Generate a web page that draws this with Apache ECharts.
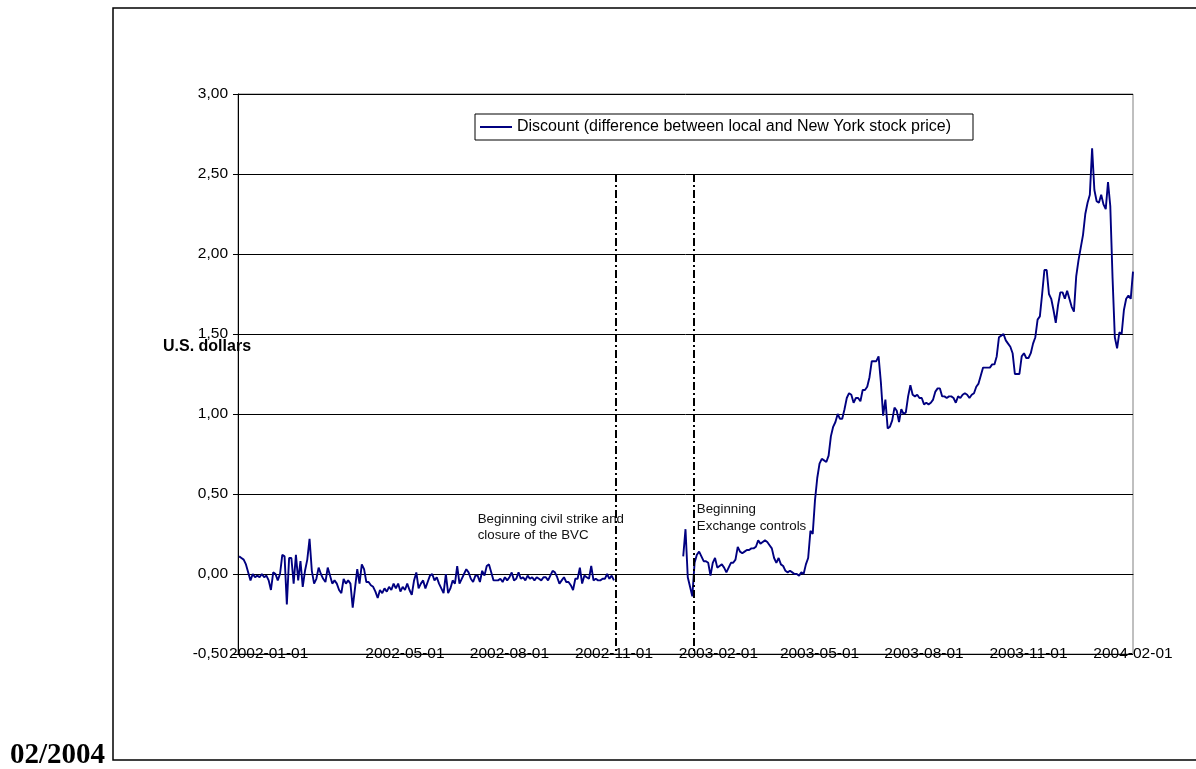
<!DOCTYPE html>
<html>
<head>
<meta charset="utf-8">
<script src="https://cdn.jsdelivr.net/npm/echarts@6/dist/echarts.min.js"></script>
<style>
  html, body { margin: 0; padding: 0; background: #fff; }
  #chart { width: 1196px; height: 769px; }
</style>
</head>
<body>
<div id="chart"></div>
<script>
// ---- data ----------------------------------------------------------------
const seriesName = 'Discount (difference between local and New York stock price)';

// date axis range and labelled dates
const axisStart = '2001-12-05';
const axisEnd = '2004-02-01';
const tickDates = ['2002-01-01', '2002-05-01', '2002-08-01', '2002-11-01', '2003-02-01',
                   '2003-05-01', '2003-08-01', '2003-11-01', '2004-02-01'];

// value axis (U.S. dollars)
const yMin = -0.5;
const yMax = 3.0;
const yStep = 0.5;

// discount observations, one every two calendar days
const stepDays = 2;

// before the strike and closure of the BVC
const beforeStrikeStart = '2001-12-06';
const beforeStrike = [
  0.11, 0.10, 0.09, 0.06, 0.01, -0.04, 0.00, -0.02, -0.01, -0.02,
  0.00, -0.02, -0.01, -0.04, -0.10, 0.01, 0.00, -0.04, 0.00, 0.12,
  0.11, -0.19, 0.10, 0.10, -0.06, 0.12, -0.04, 0.08, -0.08, 0.02,
  0.09, 0.22, 0.02, -0.06, -0.03, 0.04, 0.00, -0.03, -0.05, 0.04,
  -0.01, -0.06, -0.04, -0.06, -0.10, -0.12, -0.03, -0.06, -0.04, -0.06,
  -0.21, -0.09, 0.03, -0.06, 0.06, 0.03, -0.05, -0.05, -0.07, -0.08,
  -0.11, -0.15, -0.10, -0.12, -0.09, -0.11, -0.08, -0.10, -0.06, -0.09,
  -0.06, -0.11, -0.08, -0.10, -0.06, -0.10, -0.13, -0.04, 0.01, -0.09,
  -0.06, -0.04, -0.09, -0.05, -0.01, 0.00, -0.04, -0.02, -0.06, -0.09,
  -0.12, 0.00, -0.12, -0.09, -0.04, -0.06, 0.05, -0.06, -0.03, 0.00,
  0.03, 0.01, -0.03, -0.05, -0.01, -0.01, -0.05, 0.02, -0.01, 0.05,
  0.06, 0.01, -0.04, -0.04, -0.04, -0.03, -0.05, -0.02, -0.04, -0.02,
  0.01, -0.04, -0.03, 0.01, -0.03, -0.02, -0.04, -0.01, -0.03, -0.02,
  -0.04, -0.02, -0.03, -0.04, -0.02, -0.02, -0.04, -0.01, 0.02, 0.01,
  -0.02, -0.06, -0.04, -0.02, -0.05, -0.05, -0.07, -0.10, -0.03, -0.03,
  0.04, -0.06, -0.01, -0.02, -0.03, 0.05, -0.04, -0.03, -0.04, -0.04,
  -0.03, -0.03, 0.00, -0.03, -0.01, -0.04
];

// after trading resumed
const afterStrikeStart = '2003-01-01';
const afterStrike = [
  0.11, 0.28, -0.02, -0.08, -0.14, 0.07, 0.12, 0.14, 0.11, 0.08,
  0.08, 0.07, -0.01, 0.07, 0.10, 0.04, 0.05, 0.06, 0.04, 0.01,
  0.04, 0.07, 0.07, 0.09, 0.17, 0.14, 0.13, 0.14, 0.15, 0.15,
  0.16, 0.16, 0.17, 0.21, 0.19, 0.20, 0.21, 0.20, 0.18, 0.16,
  0.10, 0.07, 0.10, 0.06, 0.05, 0.02, 0.01, 0.02, 0.01, 0.00,
  0.00, -0.01, 0.01, 0.00, 0.06, 0.10, 0.27, 0.25, 0.46, 0.60,
  0.69, 0.72, 0.71, 0.70, 0.74, 0.86, 0.92, 0.95, 1.00, 0.97,
  0.97, 1.03, 1.10, 1.13, 1.12, 1.07, 1.10, 1.10, 1.08, 1.15,
  1.15, 1.17, 1.23, 1.33, 1.33, 1.33, 1.36, 1.20, 0.99, 1.09,
  0.91, 0.92, 0.96, 1.04, 1.02, 0.95, 1.03, 1.00, 1.01, 1.11,
  1.18, 1.12, 1.11, 1.12, 1.10, 1.10, 1.06, 1.07, 1.06, 1.07,
  1.09, 1.14, 1.16, 1.16, 1.11, 1.11, 1.10, 1.11, 1.11, 1.10,
  1.07, 1.11, 1.10, 1.12, 1.13, 1.12, 1.10, 1.12, 1.13, 1.17,
  1.19, 1.24, 1.29, 1.29, 1.29, 1.29, 1.31, 1.31, 1.36, 1.48,
  1.49, 1.50, 1.46, 1.44, 1.42, 1.38, 1.25, 1.25, 1.25, 1.36,
  1.38, 1.35, 1.35, 1.38, 1.44, 1.48, 1.59, 1.61, 1.75, 1.90,
  1.90, 1.75, 1.72, 1.65, 1.57, 1.68, 1.76, 1.76, 1.72, 1.77,
  1.72, 1.67, 1.64, 1.86, 1.96, 2.04, 2.12, 2.25, 2.32, 2.37,
  2.66, 2.40, 2.33, 2.32, 2.37, 2.31, 2.28, 2.45, 2.30, 1.85,
  1.48, 1.41, 1.51, 1.50, 1.65, 1.72, 1.74, 1.72, 1.89
];

// event markers (dash-dot lines)
const eventDates = ['2002-11-03', '2003-01-10'];
const eventTop = 2.5;

// event notes
const noteTexts = ['Beginning civil strike and\nclosure of the BVC', 'Beginning\nExchange controls'];

// ---- helpers -------------------------------------------------------------
function toTime(s, addDays) {
  const p = s.split('-').map(Number);
  return new Date(p[0], p[1] - 1, p[2] + (addDays || 0)).getTime();
}
function pad(n) { return (n < 10 ? '0' : '') + n; }
function fmtDate(t) {
  const d = new Date(t);
  return d.getFullYear() + '-' + pad(d.getMonth() + 1) + '-' + pad(d.getDate());
}
function buildSegment(start, values) {
  return values.map((v, i) => [toTime(start, i * stepDays), v]);
}

const lineData = buildSegment(beforeStrikeStart, beforeStrike)
  .concat([[toTime(beforeStrikeStart, beforeStrike.length * stepDays), null]])
  .concat(buildSegment(afterStrikeStart, afterStrike));

const FONT = '"Liberation Sans", Arial, sans-serif';

// ---- chart ---------------------------------------------------------------
const chart = echarts.init(document.getElementById('chart'), null, { renderer: 'canvas' });

const option = {
  animation: false,
  backgroundColor: '#fff',
  grid: {
    left: 238, top: 94, width: 895, height: 560,
    show: true, borderColor: '#808080', borderWidth: 1, backgroundColor: 'transparent'
  },
  legend: {
    left: 475, top: 114,
    padding: [5, 22, 5, 5],
    borderColor: '#000', borderWidth: 1,
    itemWidth: 32, itemHeight: 2,
    icon: 'rect',
    textStyle: { fontSize: 16, color: '#000', fontFamily: FONT },
    data: [seriesName]
  },
  xAxis: {
    // dates are plotted as timestamps on a linear axis
    type: 'value',
    min: toTime(axisStart),
    max: toTime(axisEnd),
    axisLine: { show: true, lineStyle: { color: '#000', width: 1 } },
    axisTick: { show: false },
    splitLine: { show: false },
    axisLabel: {
      customValues: tickDates.map(d => toTime(d)),
      formatter: v => fmtDate(v),
      color: '#000', fontSize: 15.5, fontFamily: FONT,
      verticalAlign: 'middle', margin: 0, hideOverlap: false
    }
  },
  yAxis: {
    type: 'value',
    min: yMin, max: yMax, interval: yStep,
    axisLine: { show: true, lineStyle: { color: '#000', width: 1 } },
    axisTick: { show: true, length: 5, lineStyle: { color: '#000' } },
    splitLine: { show: true, lineStyle: { color: '#000', width: 1 } },
    axisLabel: {
      formatter: v => v.toFixed(2).replace('.', ','),
      margin: 10, color: '#000', fontSize: 15.5, fontFamily: FONT
    }
  },
  series: [{
    name: seriesName,
    type: 'line',
    data: lineData,
    showSymbol: false,
    symbol: 'none',
    connectNulls: false,
    lineStyle: { color: '#000080', width: 1.9 },
    itemStyle: { color: '#000080' },
    z: 3,
    markLine: {
      silent: true,
      symbol: ['none', 'none'],
      label: { show: false },
      lineStyle: { color: '#000', width: 2, type: [8, 3, 2, 3] },
      data: eventDates.map(d => [
        { coord: [toTime(d), eventTop] },
        { coord: [toTime(d), yMin] }
      ])
    }
  }]
};

chart.setOption(option);

// note anchors (top-left corner of each text block) in data coordinates
const noteAnchors = [['2002-07-04', 0.394], ['2003-01-13', 0.453]];

const graphics = [
  {
    type: 'rect', silent: true, z: -10,
    shape: { x: 113, y: 8, width: 1100, height: 752 },
    style: { fill: 'none', stroke: '#000', lineWidth: 1.5 }
  },
  {
    type: 'text', silent: true, x: 163, y: 347,
    style: { text: 'U.S. dollars', font: 'bold 16px ' + FONT, fill: '#000',
             align: 'left', verticalAlign: 'middle' }
  },
  {
    type: 'text', silent: true, x: 10, y: 756,
    style: { text: '02/2004', font: 'bold 29px "Liberation Serif", "Times New Roman", serif',
             fill: '#000', align: 'left', verticalAlign: 'middle' }
  }
];

noteTexts.forEach((t, i) => {
  const a = noteAnchors[i];
  const p = chart.convertToPixel({ xAxisIndex: 0, yAxisIndex: 0 }, [toTime(a[0]), a[1]]);
  graphics.push({
    type: 'text', silent: true, x: p[0], y: p[1],
    style: { text: t, font: '13.3px ' + FONT, fill: '#111', lineHeight: 16.5,
             align: 'left', verticalAlign: 'top' }
  });
});

chart.setOption({ graphic: graphics });
</script>
</body>
</html>
